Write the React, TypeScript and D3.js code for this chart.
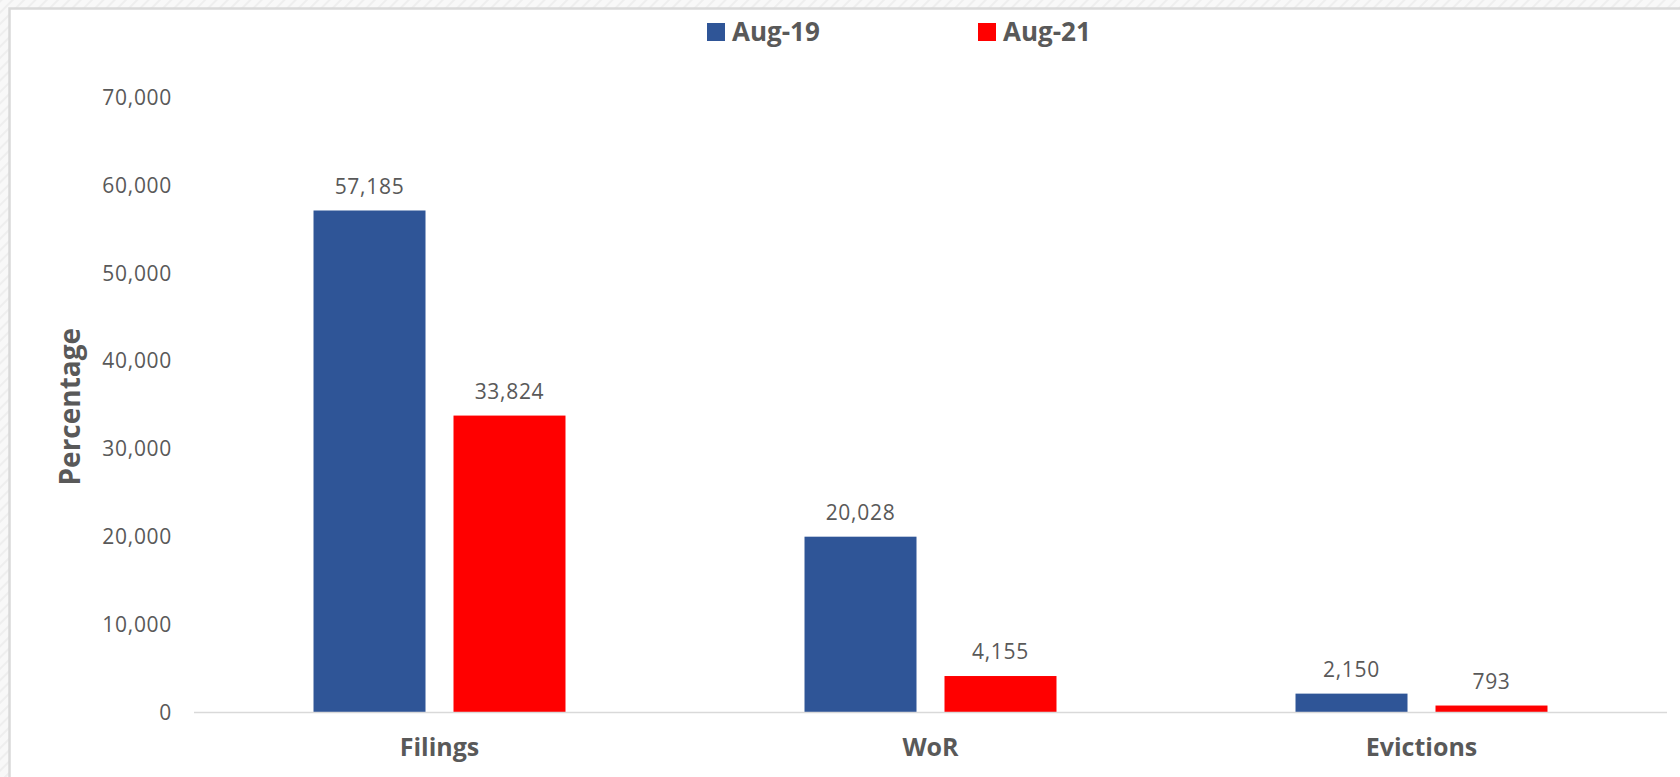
import React from "react";
import * as d3 from "d3";

const categories = ["Filings", "WoR", "Evictions"];
const seriesNames = ["Aug-19", "Aug-21"];
const aug19 = [57185, 20028, 2150];
const aug21 = [33824, 4155, 793];
const yTicks = [0, 10000, 20000, 30000, 40000, 50000, 60000, 70000];
const seriesColors = ["#2F5597", "#FF0000"];

const W = 1680;
const H = 777;
const textColor = "#595959";
const font = "'Open Sans', 'Noto Sans', sans-serif";

export default function App() {
  const x0 = d3
    .scaleBand<string>()
    .domain(categories)
    .range([194, 1667])
    .paddingInner(0.4868)
    .paddingOuter(0.2434);
  const x1 = d3
    .scaleBand<string>()
    .domain(seriesNames)
    .range([0, x0.bandwidth()])
    .paddingInner(0.2);
  const y = d3.scaleLinear().domain([0, 70000]).range([712.5, 98]);
  const fmt = d3.format(",");
  const values = [aug19, aug21];

  const legendX = [707, 978];

  return (
    <div style={{ position: "absolute", left: 0, top: 0 }}>
      <svg width={W} height={H} style={{ display: "block" }}>
        <defs>
          <pattern id="hatch" width="8" height="8" patternUnits="userSpaceOnUse" patternTransform="rotate(45)">
            <rect width="8" height="8" fill="#f8f8f8" />
            <line x1="0" y1="0" x2="0" y2="8" stroke="#eeeeee" strokeWidth="4" />
          </pattern>
        </defs>
        <rect x={0} y={0} width={W} height={H} fill="url(#hatch)" />
        <rect x={9.5} y={8.5} width={W} height={H} fill="#ffffff" stroke="#d9d9d9" strokeWidth={2.5} />

        {/* legend */}
        {seriesNames.map((s, i) => (
          <g key={s}>
            <rect x={legendX[i]} y={23} width={18} height={18} fill={seriesColors[i]} />
            <text
              x={legendX[i] + 25}
              y={41}
              fontFamily={font}
              fontWeight={700}
              fontSize={26}
              fill={textColor}
            >
              {s}
            </text>
          </g>
        ))}

        {/* y axis tick labels */}
        {yTicks.map((t) => (
          <text
            key={t}
            x={172}
            y={y(t) + 7}
            textAnchor="end"
            fontFamily={font}
            fontSize={21}
            letterSpacing={0.7}
            fill={textColor}
          >
            {fmt(t)}
          </text>
        ))}

        {/* y axis title */}
        <text
          transform={`translate(80, ${406.7}) rotate(-90)`}
          textAnchor="middle"
          fontFamily={font}
          fontWeight={700}
          fontSize={28}
          fill={textColor}
        >
          Percentage
        </text>

        {/* bars */}
        {categories.map((c, ci) => (
          <g key={c} transform={`translate(${x0(c)},0)`}>
            {seriesNames.map((s, si) => {
              const v = values[si][ci];
              const bx = x1(s)!;
              return (
                <g key={s}>
                  <rect
                    x={bx}
                    y={y(v)}
                    width={x1.bandwidth()}
                    height={y(0) - y(v)}
                    fill={seriesColors[si]}
                  />
                  <text
                    x={bx + x1.bandwidth() / 2}
                    y={y(v) - 16.7}
                    textAnchor="middle"
                    fontFamily={font}
                    fontSize={21}
                    letterSpacing={0.7}
                    fill={textColor}
                  >
                    {fmt(v)}
                  </text>
                </g>
              );
            })}
          </g>
        ))}

        {/* baseline */}
        <line x1={194} x2={1667} y1={712.5} y2={712.5} stroke="#d9d9d9" strokeWidth={1.5} />

        {/* category labels */}
        {categories.map((c) => (
          <text
            key={c}
            x={x0(c)! + x0.bandwidth() / 2}
            y={756}
            textAnchor="middle"
            fontFamily={font}
            fontWeight={700}
            fontSize={25}
            fill={textColor}
          >
            {c}
          </text>
        ))}
      </svg>
    </div>
  );
}
